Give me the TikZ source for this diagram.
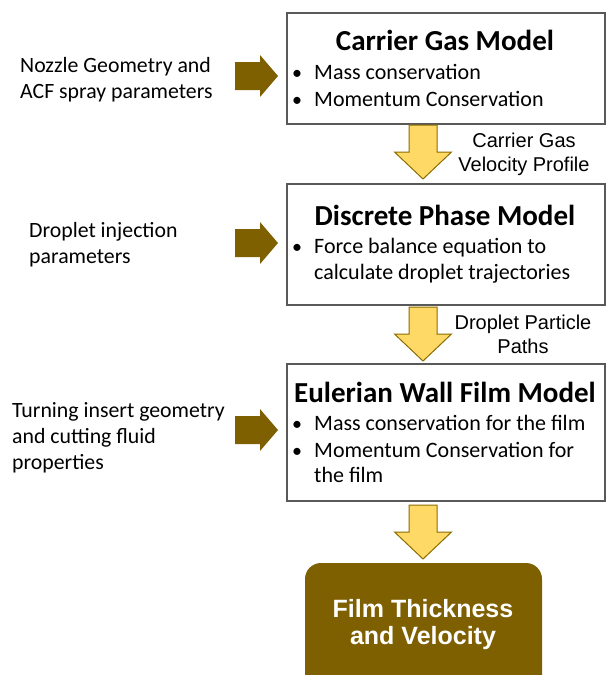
\documentclass[tikz,border=0pt]{standalone}
\usepackage{fontspec}
\setmainfont{Carlito}
\newfontfamily\arialf{Liberation Sans}
\begin{document}
\begin{tikzpicture}[x=1pt,y=-1pt,
  modelbox/.style={draw=boxgray,line width=2pt,fill=white,inner sep=0pt,anchor=north west},
  titletxt/.style={font=\fontsize{29}{34}\bfseries\selectfont,anchor=base,inner sep=0pt},
  itemtxt/.style={font=\fontsize{22}{26}\selectfont,anchor=base west,inner sep=0pt},
  sidetxt/.style={font=\fontsize{21.8}{26}\selectfont,anchor=base west,inner sep=0pt},
  flowtxt/.style={font=\arialf\fontsize{20}{24}\selectfont,anchor=base,inner sep=0pt},
  bul/.style={font=\fontsize{20}{24}\selectfont,anchor=base,inner sep=0pt},
  restxt/.style={font=\arialf\fontsize{25}{30}\bfseries\selectfont,text=white,anchor=base,inner sep=0pt},
  yarrow/.style={fill=arrowyellow,draw=arrowgold,line width=1pt,line join=miter},
  barrow/.style={fill=brownfill,draw=none},
  downarr/.pic={\path[yarrow] (-14,0) -- (14,0) -- (14,27) -- (28.5,27) -- (0,54) -- (-28.5,27) -- (-14,27) -- cycle;},
  rightarr/.pic={\path[barrow] (0,-14) -- (25,-14) -- (25,-21) -- (43,0) -- (25,21) -- (25,14) -- (0,14) -- cycle;}
]
\definecolor{boxgray}{HTML}{595959}
\definecolor{arrowyellow}{HTML}{FFD966}
\definecolor{arrowgold}{HTML}{8A6D00}
\definecolor{brownfill}{HTML}{7F6000}
\useasboundingbox (0,0) rectangle (607,675);
\clip (0,0) rectangle (607,675);

% model boxes
\node[modelbox,minimum width=318pt,minimum height=111pt] (cg) at (286,12) {};
\node[modelbox,minimum width=318pt,minimum height=121pt] (dp) at (286,183) {};
\node[modelbox,minimum width=318pt,minimum height=137pt] (ew) at (286,363) {};

% carrier gas model
\node[titletxt] (cgt) at (445,50) {Carrier Gas Model};
\node[bul] (cgb1) at (297,79) {•};
\node[itemtxt] (cg1) at (314,79) {Mass conservation};
\node[bul] (cgb2) at (297,106) {•};
\node[itemtxt] (cg2) at (314,106) {Momentum Conservation};

% discrete phase model
\node[titletxt] (dpt) at (445,225) {Discrete Phase Model};
\node[bul] (dpb1) at (297,253) {•};
\node[itemtxt] (dp1) at (314,253) {Force balance equation to};
\node[itemtxt] (dp2) at (314,279) {calculate droplet trajectories};

% eulerian wall film model
\node[titletxt] (ewt) at (445,402) {Eulerian Wall Film Model};
\node[bul] (ewb1) at (297,430) {•};
\node[itemtxt] (ew1) at (314,430) {Mass conservation for the film};
\node[bul] (ewb2) at (297,457) {•};
\node[itemtxt] (ew2) at (314,457) {Momentum Conservation for};
\node[itemtxt] (ew3) at (314,482) {the film};

% result box
\path[fill=brownfill,rounded corners=16pt] (305,563) rectangle (542,700);
\node[restxt] (r1) at (423,617) {Film Thickness};
\node[restxt] (r2) at (423,644) {and Velocity};

% inputs
\node[sidetxt] (in1a) at (20,72) {Nozzle Geometry and};
\node[sidetxt] (in1b) at (20,98) {ACF spray parameters};
\node[sidetxt] (in2a) at (29,237) {Droplet injection};
\node[sidetxt] (in2b) at (29,263) {parameters};
\node[sidetxt] (in3a) at (12,417) {Turning insert geometry};
\node[sidetxt] (in3b) at (12,443) {and cutting fluid};
\node[sidetxt] (in3c) at (12,469) {properties};

\pic at (235,76) {rightarr};
\pic at (235,243) {rightarr};
\pic at (235,430) {rightarr};

% flow between models
\pic at (423,125) {downarr};
\pic at (423,307) {downarr};
\pic at (423,505) {downarr};

\node[flowtxt] (f1a) at (524,147) {Carrier Gas};
\node[flowtxt] (f1b) at (524,171) {Velocity Profile};
\node[flowtxt] (f2a) at (523,329) {Droplet Particle};
\node[flowtxt] (f2b) at (523,353) {Paths};
\end{tikzpicture}
\end{document}
